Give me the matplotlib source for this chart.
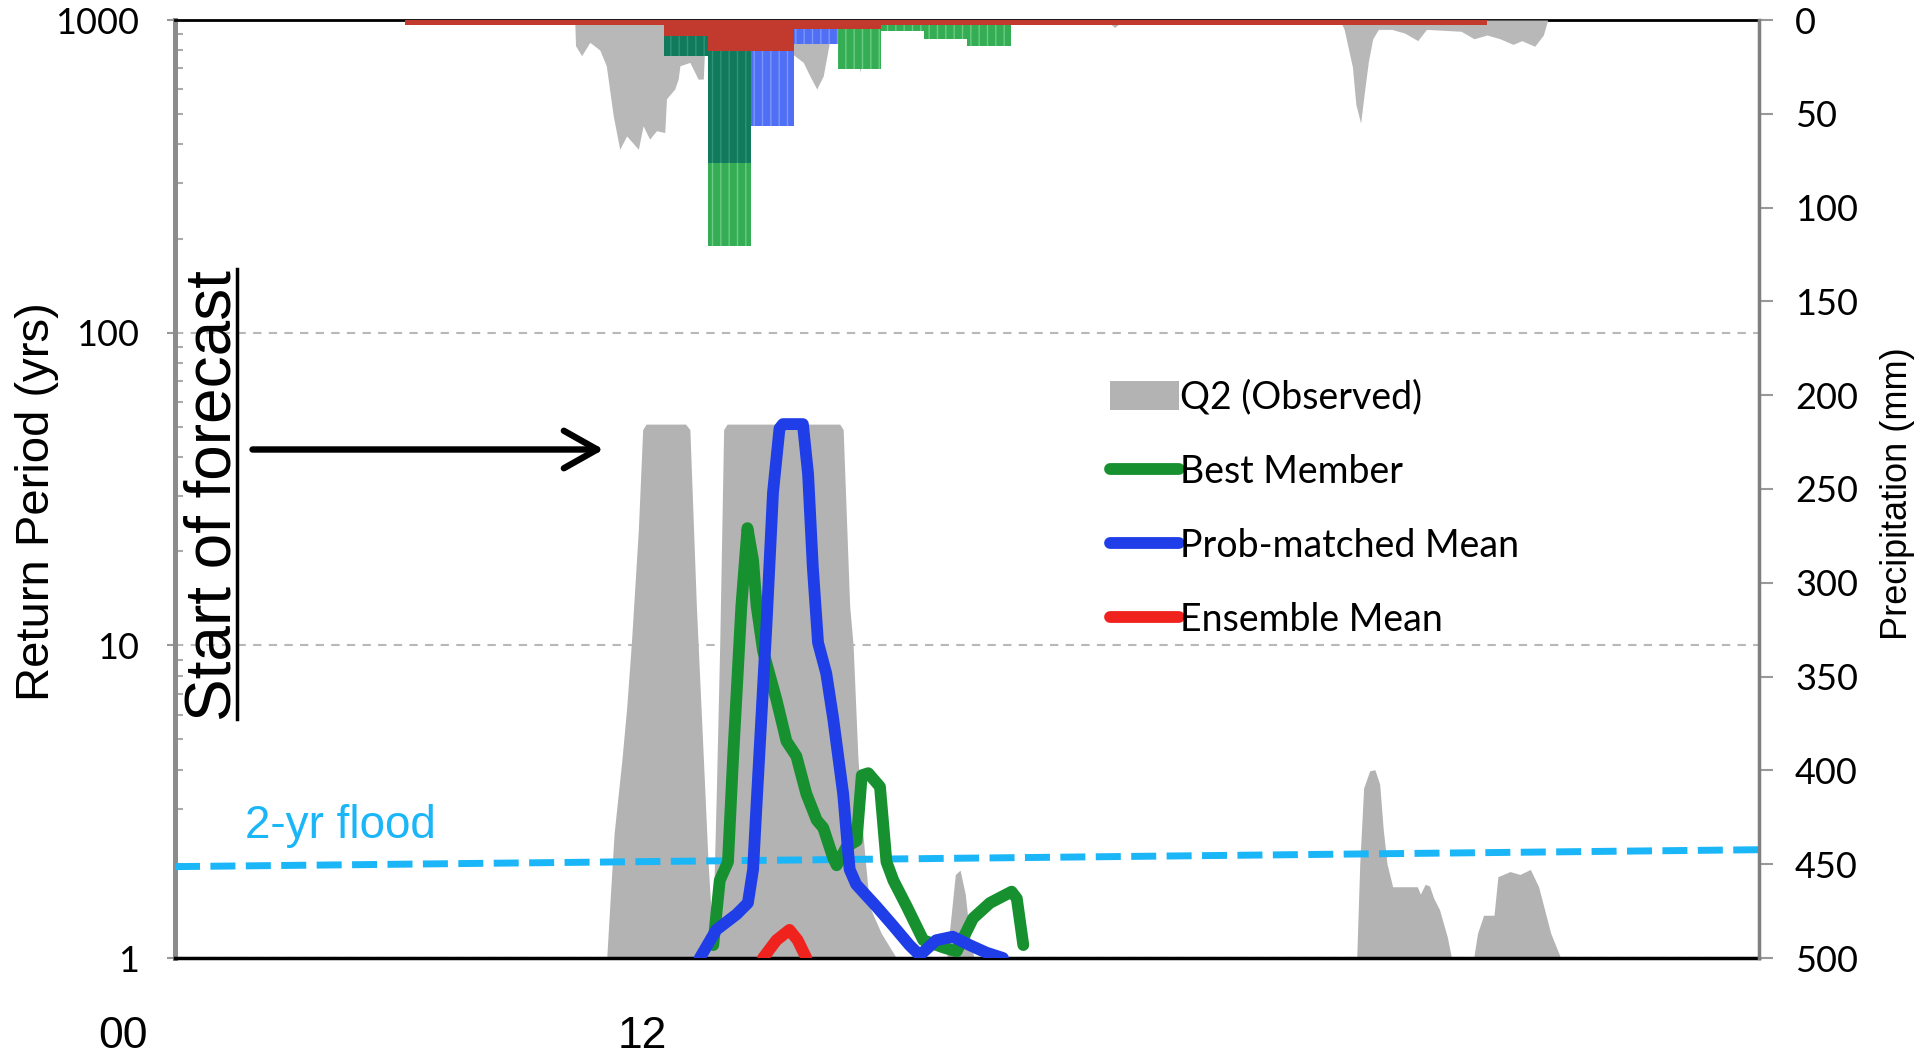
import numpy as np
import matplotlib
matplotlib.use('Agg')
import matplotlib.pyplot as plt
import matplotlib.transforms as mtransforms
from matplotlib.lines import Line2D
from matplotlib.patches import Patch

# time axis in hours from 00
tick_hours = [0, 12]
tick_labels = ['00', '12']

# Q2 observed return period (yrs)
q2_hr = [1.2, 11.11, 11.17, 11.25, 11.34, 11.52, 11.63, 11.74, 11.90, 12.0, 12.08, 12.99, 13.09, 13.24,
         13.40, 13.51, 13.58, 13.64, 13.70, 13.78, 13.87, 13.95, 16.55, 16.63, 16.78, 16.86, 16.97, 17.08,
         17.24, 17.51, 17.86, 19.02, 19.13, 19.22, 19.33, 19.45, 19.56, 19.65, 28.49, 28.56, 28.65, 28.79,
         28.91, 29.02, 29.10, 29.19, 29.32, 29.89, 29.96, 30.07, 30.17, 30.27, 30.40, 30.58, 30.68, 31.19,
         31.28, 31.42, 31.66, 31.75, 32.03, 32.26, 32.50, 32.69, 32.97, 33.20, 37.8]
q2_rp = [1, 1, 1, 1.55, 2.5, 4.3, 6.3, 10.2, 23.4, 49, 51, 51, 49, 13.4,
         4.4, 2.03, 1.4, 1.6, 3.35, 10.2, 49, 51, 51, 49, 13.4, 10, 4.4, 2.54,
         1.46, 1.2, 1, 1, 1.4, 1.85, 1.91, 1.6, 1.15, 1, 1, 2.0, 3.5, 3.97,
         4.0, 3.6, 2.6, 2.0, 1.69, 1.69, 1.6, 1.72, 1.7, 1.55, 1.43, 1.17, 1, 1,
         1.2, 1.37, 1.37, 1.82, 1.89, 1.85, 1.92, 1.69, 1.2, 1, 1]

# Best Member return period
best_hr = [13.63, 13.78, 13.97, 14.09, 14.28, 14.42, 14.55, 14.63, 14.78, 15.09, 15.32, 15.55, 15.78,
           16.02, 16.17, 16.40, 16.48, 16.71, 16.94, 17.06, 17.21, 17.48, 17.63, 17.79, 18.10, 18.48,
           18.95, 19.25, 19.63, 20.02, 20.52, 20.64, 20.79]
best_rp = [1.1, 1.77, 2.03, 4.42, 13.4, 23.7, 18.7, 13.4, 9.6, 6.7, 4.94, 4.42, 3.35,
           2.76, 2.61, 2.09, 1.98, 2.27, 2.37, 3.84, 3.9, 3.53, 2.03, 1.77, 1.46, 1.14,
           1.08, 1.05, 1.34, 1.5, 1.63, 1.55, 1.1]

# Prob-matched Mean return period
pmm_hr = [13.32, 13.70, 14.17, 14.43, 14.55, 14.62, 14.74, 14.86, 15.01, 15.16, 15.24, 15.70, 15.82,
          15.93, 16.05, 16.24, 16.40, 16.63, 16.78, 16.93, 17.40, 17.78, 18.16, 18.40, 18.78, 19.16,
          19.55, 19.94, 20.32]
pmm_rp = [1.0, 1.23, 1.38, 1.5, 1.92, 2.92, 5.83, 11.7, 30.8, 49.4, 51, 51, 35.3,
          17.7, 10.2, 8.13, 5.83, 3.35, 1.92, 1.72, 1.46, 1.27, 1.1, 1.02, 1.14, 1.17,
          1.1, 1.04, 1.0]

# Ensemble Mean return period
ens_hr = [14.78, 15.09, 15.39, 15.58, 15.78]
ens_rp = [1.0, 1.14, 1.23, 1.14, 1.0]

# 2-yr flood threshold
flood_hr = [1.2, 37.78]
flood_rp = [1.96, 2.22]

# observed Q2 precipitation (mm)
obs_pr_hr = [10.43, 10.45, 10.59, 10.78, 11.01, 11.16, 11.32, 11.47, 11.63, 11.90, 12.01, 12.16, 12.32,
             12.51, 12.55, 12.74, 12.82, 12.86, 13.09, 13.28, 13.40, 13.44, 15.0, 15.71, 15.86, 16.02,
             16.17, 16.28, 16.37, 16.9, 17.02, 17.15, 17.3, 22.7, 22.9, 23.1, 28.1, 28.2, 28.39, 28.47,
             28.58, 28.67, 28.76, 28.86, 28.99, 29.3, 29.6, 29.9, 30.1, 30.9, 31.2, 31.5, 31.8, 32.1,
             32.3, 32.6, 32.8, 32.9]
obs_pr_mm = [0, 13.7, 19, 11.9, 16, 24.4, 51, 68.9, 61.8, 68.9, 56.4, 63.5, 59,
             60, 42, 36.8, 31.5, 24.4, 22.6, 31.5, 31.5, 10, 10, 22.6, 29.8, 36.8,
             29.8, 16, 5, 5, 28, 5, 0, 0, 4, 0, 0, 5, 25, 45,
             55, 38, 22, 10, 5, 5, 7, 11, 5, 6, 10, 8, 10, 13,
             11, 14, 8, 0]

# hourly forecast precipitation (mm)
pr_hours = [13, 14, 15, 16, 17, 18, 19, 20]
best_pr = [19, 120.5, 10, 3, 26, 6, 10, 14]
pmm_pr = [19, 76, 56.4, 12.8, 0, 0, 0, 0]
ens_pr_hours = list(range(7, 32))
ens_pr = [2.5, 2.5, 2.5, 2.5, 2.5, 2.5, 8.4, 16.4, 16.4, 4.8, 4.8, 2.5, 2.5, 2.5,
          2.5, 2.5, 2.5, 2.5, 2.5, 2.5, 2.5, 2.5, 2.5, 2.5, 2.5]

GRAY = '#b3b3b3'
GREEN = '#17902f'
BLUE = '#1f3ee8'
RED = '#f0221e'
CYAN = '#1ab6f7'

plt.rcParams['hatch.linewidth'] = 1.0

fig = plt.figure(figsize=(19.33, 10.56), dpi=100)
ax = fig.add_axes([175 / 1933, 1 - 958 / 1056, 1584 / 1933, 938 / 1056])
ax.set_yscale('log')
ax.set_ylim(1, 1000)
ax.set_xlim(1.2, 37.78)

ax.yaxis.grid(True, which='major', color='#b8b8b8', linestyle=(0, (4, 3.5)), lw=1.5)
ax.set_axisbelow(True)

ax.fill_between(q2_hr, 1, q2_rp, color=GRAY, lw=0, zorder=1)
ax.plot(flood_hr, flood_rp, color=CYAN, lw=5, dashes=(3.6, 1.5), zorder=3)
ax.plot(best_hr, best_rp, color=GREEN, lw=8.5, solid_joinstyle='round', solid_capstyle='round', zorder=4)
ax.plot(ens_hr, ens_rp, color=RED, lw=8.5, solid_joinstyle='round', solid_capstyle='round', zorder=4)
ax.plot(pmm_hr, pmm_rp, color=BLUE, lw=8.5, solid_joinstyle='round', solid_capstyle='round', zorder=5)

ax.annotate('', xy=(11.1, 42.3), xytext=(2.99, 42.3),
            arrowprops=dict(arrowstyle='->,head_length=0.8,head_width=0.45', lw=4.6, color='black',
                            mutation_scale=30, shrinkA=0, shrinkB=0))

ax.set_xticks([])
ax.set_yticks([1, 10, 100, 1000])
ax.set_yticklabels(['1', '10', '100', '1000'])
ax.tick_params(axis='y', which='major', direction='out', length=6, width=1.5, color='#999999',
               pad=20, labelsize=26)
ax.tick_params(axis='y', which='minor', direction='in', length=6, width=1.5, color='#aaaaaa')
for lab in ax.get_yticklabels():
    lab.set_fontfamily('Lato')

ax.spines['left'].set_color('#8c8c8c')
ax.spines['left'].set_linewidth(3.6)
ax.spines['bottom'].set_color('black')
ax.spines['bottom'].set_linewidth(2.5)
ax.spines['top'].set_color('black')
ax.spines['top'].set_linewidth(2)
ax.spines['right'].set_visible(False)

trans = mtransforms.blended_transform_factory(ax.transData, fig.transFigure)
for h, lab in zip(tick_hours, tick_labels):
    ax.text(h, 1 - 1036 / 1056, lab, transform=trans, ha='center', va='center', fontsize=32,
            family='Liberation Sans', clip_on=False)

# precipitation on inverted right axis
ax2 = ax.twinx()
ax2.set_ylim(500, 0)
ax2.set_xlim(1.2, 37.78)
ax2.fill_between(obs_pr_hr, 0, obs_pr_mm, color='#b8b8b8', lw=0, zorder=1)
overlap = np.minimum(best_pr, pmm_pr)
ax2.bar(pr_hours, pmm_pr, width=1.0, color='#4f6ff5', edgecolor='#7d95fa', hatch='||', lw=0, zorder=2)
ax2.bar(pr_hours, best_pr, width=1.0, color='#35ad55', edgecolor='#6ccb84', hatch='||', lw=0, zorder=3)
ax2.bar(pr_hours, overlap, width=1.0, color='#127a5c', edgecolor='#2f9478', hatch='||', lw=0, zorder=4)
ax2.bar(ens_pr_hours, ens_pr, width=1.0, color='#c23a2e', lw=0, zorder=5)

ax2.set_yticks(range(0, 501, 50))
ax2.tick_params(axis='y', direction='out', length=10, width=1.5, color='#999999', pad=16, labelsize=26)
for lab in ax2.get_yticklabels():
    lab.set_fontfamily('Lato')
for s in ['left', 'top', 'bottom']:
    ax2.spines[s].set_visible(False)
ax2.spines['right'].set_color('#7f7f7f')
ax2.spines['right'].set_linewidth(2.5)

handles = [Patch(facecolor=GRAY, edgecolor='none'),
           Line2D([], [], color=GREEN, lw=8.5, solid_capstyle='round'),
           Line2D([], [], color=BLUE, lw=8.5, solid_capstyle='round'),
           Line2D([], [], color=RED, lw=8.5, solid_capstyle='round')]
labels = ['Q2 (Observed)', 'Best Member', 'Prob-matched Mean', 'Ensemble Mean']
ax2.legend(handles, labels, loc='upper left', bbox_to_anchor=(0.590, 0.617), frameon=False,
           prop={'family': 'Lato', 'size': 27}, handlelength=1.85, handleheight=0.8,
           handletextpad=0.02, labelspacing=1.02, borderpad=0, borderaxespad=0)

fig.text(37 / 1933, 1 - 502 / 1056, 'Return Period (yrs)', rotation=90, ha='center', va='center',
         fontsize=34, family='Liberation Sans')
fig.text(1898 / 1933, 1 - 494 / 1056, 'Precipitation (mm)', rotation=90, ha='center', va='center',
         fontsize=26, family='Liberation Sans')
fig.text(214 / 1933, 1 - 496 / 1056, 'Start of forecast', rotation=90, ha='center', va='center',
         fontsize=46, family='Liberation Sans')
fig.add_artist(Line2D([236.7 / 1933] * 2, [1 - 268.8 / 1056, 1 - 718.7 / 1056], color='black', lw=2.5))
fig.text(340 / 1933, 1 - 826 / 1056, '2-yr flood', color=CYAN, ha='center', va='center',
         fontsize=33, family='Liberation Sans')

fig.savefig('out.png', dpi=100)
